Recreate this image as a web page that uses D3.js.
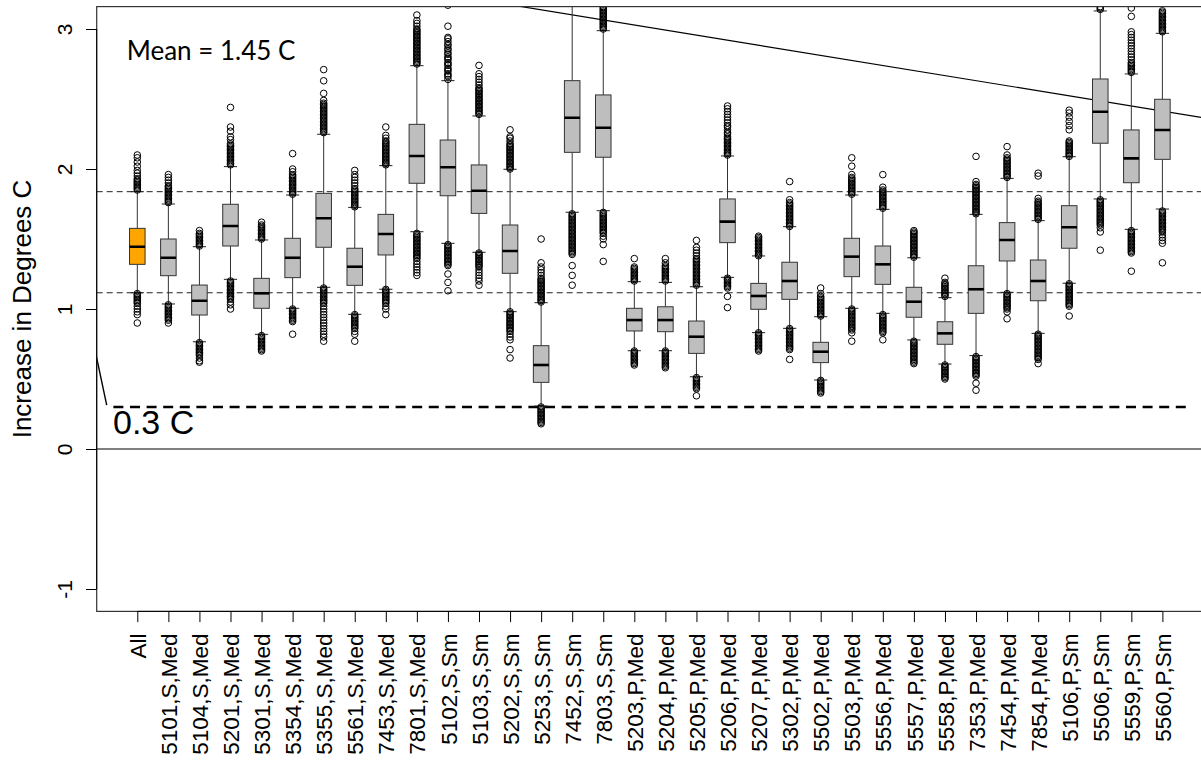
<!DOCTYPE html>
<html>
<head>
<meta charset="utf-8">
<script src="https://cdn.jsdelivr.net/npm/d3@7"></script>
<style>
  body { margin: 0; background: #fff; }
  svg { display: block; }
</style>
</head>
<body>
<svg id="chart" width="1201" height="761"></svg>
<script>
// ---- data ----
const categories = ["All", "5101,S,Med", "5104,S,Med", "5201,S,Med", "5301,S,Med", "5354,S,Med",
    "5355,S,Med", "5561,S,Med", "7453,S,Med", "7801,S,Med", "5102,S,Sm", "5103,S,Sm", "5202,S,Sm",
    "5253,S,Sm", "7452,S,Sm", "7803,S,Sm", "5203,P,Med", "5204,P,Med", "5205,P,Med", "5206,P,Med",
    "5207,P,Med", "5302,P,Med", "5502,P,Med", "5503,P,Med", "5556,P,Med", "5557,P,Med", "5558,P,Med",
    "7353,P,Med", "7454,P,Med", "7854,P,Med", "5106,P,Sm", "5506,P,Sm", "5559,P,Sm", "5560,P,Sm"];

const q3s = [1.576, 1.50, 1.171, 1.748, 1.219, 1.505, 1.826, 1.434, 1.676, 2.319, 2.207, 2.029, 1.60,
    0.738, 2.631, 2.529, 1.005, 1.016, 0.914, 1.786, 1.183, 1.334, 0.762, 1.505, 1.45, 1.155, 0.909,
    1.309, 1.617, 1.35, 1.738, 2.643, 2.279, 2.498];
const medians = [1.445, 1.366, 1.059, 1.593, 1.112, 1.366, 1.648, 1.302, 1.536, 2.093, 2.012, 1.845,
    1.414, 0.60, 2.366, 2.295, 0.921, 0.921, 0.802, 1.624, 1.093, 1.20, 0.695, 1.374, 1.319, 1.052,
    0.826, 1.141, 1.493, 1.20, 1.584, 2.409, 2.076, 2.279];
const q1s = [1.319, 1.238, 0.957, 1.45, 1.005, 1.224, 1.441, 1.169, 1.386, 1.898, 1.809, 1.683, 1.255,
    0.476, 2.119, 2.084, 0.843, 0.838, 0.683, 1.474, 0.998, 1.069, 0.617, 1.231, 1.176, 0.941, 0.748,
    0.969, 1.343, 1.059, 1.434, 2.184, 1.902, 2.069];
const whiskerHigh = [1.838, 1.75, 1.445, 2.017, 1.493, 1.814, 2.248, 1.726, 2.024, 2.738, 2.631, 2.379,
    1.998, 1.045, 3.40, 2.988, 1.195, 1.19, 1.159, 2.093, 1.379, 1.588, 0.945, 1.814, 1.712, 1.366,
    1.081, 1.676, 1.933, 1.631, 2.088, 3.129, 2.679, 2.969];
const whiskerLow = [1.116, 1.036, 0.766, 1.212, 0.819, 1.005, 1.155, 0.962, 1.141, 1.552, 1.469, 1.405,
    0.981, 0.307, 1.691, 1.702, 0.702, 0.702, 0.516, 1.226, 0.831, 0.862, 0.493, 1.005, 0.969, 0.779,
    0.607, 0.667, 1.119, 0.826, 1.184, 1.786, 1.569, 1.714];

const outliersHigh = [
    [1.85, 1.86, 1.87, 1.88, 1.89, 1.90, 1.91, 1.92, 1.93, 1.95, 1.97, 1.99, 2.02, 2.05, 2.08, 2.10],
    [1.76, 1.77, 1.78, 1.79, 1.80, 1.81, 1.82, 1.83, 1.84, 1.85, 1.86, 1.87, 1.88, 1.90, 1.92, 1.94, 1.96],
    [1.45, 1.46, 1.47, 1.48, 1.49, 1.50, 1.51, 1.52, 1.53, 1.54, 1.56],
    [2.03, 2.04, 2.05, 2.06, 2.07, 2.08, 2.09, 2.10, 2.11, 2.12, 2.13, 2.14, 2.15, 2.16, 2.17, 2.18, 2.21, 2.23, 2.27, 2.30, 2.44],
    [1.50, 1.51, 1.52, 1.53, 1.54, 1.55, 1.56, 1.57, 1.58, 1.59, 1.60, 1.62],
    [1.82, 1.83, 1.84, 1.85, 1.86, 1.87, 1.88, 1.89, 1.90, 1.91, 1.92, 1.93, 1.94, 1.95, 1.96, 1.98, 2.00, 2.11],
    [2.26, 2.27, 2.28, 2.29, 2.30, 2.31, 2.32, 2.33, 2.34, 2.35, 2.36, 2.37, 2.38, 2.39, 2.40, 2.41, 2.42, 2.43, 2.44, 2.45, 2.46, 2.47, 2.49, 2.54, 2.63, 2.71],
    [1.73, 1.74, 1.75, 1.76, 1.77, 1.78, 1.79, 1.80, 1.81, 1.82, 1.83, 1.84, 1.85, 1.86, 1.88, 1.90, 1.92, 1.94, 1.96, 1.99],
    [2.03, 2.04, 2.05, 2.06, 2.07, 2.08, 2.09, 2.10, 2.11, 2.12, 2.13, 2.14, 2.15, 2.16, 2.17, 2.18, 2.19, 2.20, 2.22, 2.24, 2.30],
    [2.75, 2.76, 2.77, 2.78, 2.79, 2.80, 2.81, 2.82, 2.83, 2.84, 2.85, 2.86, 2.87, 2.88, 2.89, 2.90, 2.91, 2.92, 2.93, 2.94, 2.95, 2.96, 2.97, 2.98, 2.99, 3.00, 3.02, 3.04, 3.06, 3.10],
    [2.64, 2.66, 2.67, 2.68, 2.70, 2.71, 2.72, 2.74, 2.75, 2.76, 2.78, 2.79, 2.80, 2.82, 2.83, 2.85, 2.86, 2.88, 2.89, 2.91, 2.93, 2.94, 3.02, 3.17],
    [2.39, 2.40, 2.41, 2.42, 2.43, 2.44, 2.45, 2.46, 2.47, 2.48, 2.49, 2.50, 2.51, 2.52, 2.53, 2.54, 2.55, 2.56, 2.57, 2.58, 2.60, 2.62, 2.64, 2.66, 2.68, 2.74],
    [2.00, 2.01, 2.02, 2.03, 2.04, 2.05, 2.06, 2.07, 2.08, 2.09, 2.10, 2.11, 2.12, 2.13, 2.14, 2.15, 2.16, 2.17, 2.18, 2.20, 2.22, 2.23, 2.28],
    [1.05, 1.06, 1.07, 1.08, 1.09, 1.10, 1.11, 1.12, 1.13, 1.14, 1.15, 1.16, 1.17, 1.18, 1.19, 1.20, 1.21, 1.22, 1.24, 1.26, 1.28, 1.30, 1.33, 1.50],
    [],
    [3.00, 3.01, 3.02, 3.03, 3.04, 3.05, 3.06, 3.07, 3.08, 3.09, 3.10, 3.11, 3.12, 3.13, 3.14, 3.15, 3.16],
    [1.20, 1.21, 1.22, 1.23, 1.24, 1.25, 1.26, 1.27, 1.28, 1.29, 1.30, 1.36],
    [1.20, 1.21, 1.22, 1.23, 1.24, 1.25, 1.26, 1.27, 1.28, 1.29, 1.30, 1.31, 1.33, 1.36],
    [1.17, 1.18, 1.19, 1.20, 1.21, 1.22, 1.23, 1.24, 1.25, 1.26, 1.27, 1.28, 1.29, 1.30, 1.31, 1.32, 1.33, 1.34, 1.35, 1.36, 1.38, 1.40, 1.42, 1.44, 1.49],
    [2.10, 2.11, 2.12, 2.13, 2.14, 2.15, 2.16, 2.17, 2.18, 2.19, 2.20, 2.21, 2.22, 2.23, 2.25, 2.26, 2.28, 2.30, 2.31, 2.33, 2.35, 2.37, 2.39, 2.41, 2.43, 2.45],
    [1.38, 1.39, 1.40, 1.41, 1.42, 1.43, 1.44, 1.45, 1.46, 1.47, 1.48, 1.49, 1.50, 1.51, 1.52],
    [1.59, 1.60, 1.61, 1.62, 1.63, 1.64, 1.65, 1.66, 1.67, 1.68, 1.69, 1.70, 1.71, 1.72, 1.73, 1.74, 1.75, 1.76, 1.78, 1.91],
    [0.95, 0.96, 0.97, 0.98, 0.99, 1.00, 1.01, 1.02, 1.03, 1.04, 1.05, 1.06, 1.07, 1.08, 1.09, 1.11, 1.15],
    [1.82, 1.83, 1.84, 1.85, 1.86, 1.87, 1.88, 1.89, 1.90, 1.91, 1.92, 1.93, 1.94, 1.96, 2.02, 2.08],
    [1.72, 1.73, 1.74, 1.75, 1.76, 1.77, 1.78, 1.79, 1.80, 1.81, 1.82, 1.83, 1.84, 1.85, 1.87, 1.96],
    [1.37, 1.38, 1.39, 1.40, 1.41, 1.42, 1.43, 1.44, 1.45, 1.46, 1.47, 1.48, 1.49, 1.50, 1.51, 1.52, 1.53, 1.54, 1.55, 1.56],
    [1.09, 1.10, 1.11, 1.12, 1.13, 1.14, 1.15, 1.16, 1.17, 1.18, 1.19, 1.22],
    [1.68, 1.69, 1.70, 1.71, 1.72, 1.73, 1.74, 1.75, 1.76, 1.77, 1.78, 1.79, 1.80, 1.81, 1.82, 1.83, 1.84, 1.85, 1.86, 1.87, 1.88, 1.89, 1.91, 2.09],
    [1.94, 1.95, 1.96, 1.97, 1.98, 1.99, 2.00, 2.01, 2.02, 2.03, 2.04, 2.05, 2.06, 2.07, 2.08, 2.10, 2.16],
    [1.64, 1.65, 1.66, 1.67, 1.68, 1.69, 1.70, 1.71, 1.72, 1.73, 1.74, 1.75, 1.76, 1.77, 1.79, 1.95, 1.97],
    [2.09, 2.10, 2.11, 2.12, 2.13, 2.14, 2.15, 2.16, 2.17, 2.18, 2.19, 2.20, 2.28, 2.31, 2.34, 2.37, 2.40, 2.42],
    [3.14, 3.15, 3.16],
    [2.69, 2.70, 2.71, 2.72, 2.73, 2.74, 2.75, 2.76, 2.78, 2.80, 2.82, 2.84, 2.86, 2.88, 2.90, 2.92, 2.94, 2.96, 2.98, 3.09, 3.15],
    [2.98, 2.99, 3.00, 3.01, 3.02, 3.03, 3.04, 3.05, 3.06, 3.07, 3.08, 3.09, 3.10, 3.11, 3.12, 3.13]
];

const outliersLow = [
    [1.11, 1.10, 1.09, 1.08, 1.07, 1.06, 1.05, 1.04, 1.02, 1.00, 0.98, 0.96, 0.90],
    [1.03, 1.02, 1.01, 1.00, 0.99, 0.98, 0.97, 0.96, 0.95, 0.94, 0.93, 0.92, 0.90],
    [0.76, 0.75, 0.74, 0.73, 0.72, 0.71, 0.70, 0.69, 0.68, 0.67, 0.65, 0.63, 0.62],
    [1.20, 1.19, 1.18, 1.17, 1.16, 1.15, 1.14, 1.13, 1.12, 1.11, 1.10, 1.09, 1.08, 1.07, 1.05, 1.03, 1.00],
    [0.81, 0.80, 0.79, 0.78, 0.77, 0.76, 0.75, 0.74, 0.73, 0.72, 0.71, 0.70],
    [1.00, 0.99, 0.98, 0.97, 0.96, 0.95, 0.94, 0.93, 0.92, 0.91, 0.82],
    [1.15, 1.14, 1.13, 1.12, 1.11, 1.10, 1.09, 1.08, 1.07, 1.06, 1.05, 1.04, 1.02, 1.00, 0.98, 0.96, 0.94, 0.92, 0.90, 0.88, 0.86, 0.84, 0.82, 0.80, 0.77],
    [0.96, 0.95, 0.94, 0.93, 0.92, 0.91, 0.90, 0.89, 0.88, 0.87, 0.86, 0.84, 0.82, 0.77],
    [1.14, 1.13, 1.12, 1.11, 1.10, 1.09, 1.08, 1.07, 1.06, 1.05, 1.04, 1.02, 1.00, 0.96],
    [1.54, 1.53, 1.52, 1.51, 1.50, 1.49, 1.48, 1.47, 1.46, 1.45, 1.44, 1.43, 1.42, 1.41, 1.40, 1.39, 1.38, 1.37, 1.36, 1.34, 1.32, 1.30, 1.28, 1.26, 1.24],
    [1.46, 1.45, 1.44, 1.43, 1.42, 1.41, 1.40, 1.39, 1.38, 1.37, 1.36, 1.35, 1.34, 1.33, 1.32, 1.31, 1.25, 1.19, 1.13],
    [1.40, 1.39, 1.38, 1.37, 1.36, 1.35, 1.34, 1.33, 1.32, 1.31, 1.30, 1.28, 1.26, 1.24, 1.22, 1.20, 1.17],
    [0.98, 0.97, 0.96, 0.95, 0.94, 0.93, 0.92, 0.91, 0.90, 0.89, 0.88, 0.87, 0.86, 0.85, 0.84, 0.82, 0.80, 0.78, 0.71, 0.65],
    [0.30, 0.29, 0.28, 0.27, 0.26, 0.25, 0.24, 0.23, 0.22, 0.21, 0.20, 0.19, 0.18],
    [1.68, 1.67, 1.66, 1.65, 1.64, 1.63, 1.62, 1.61, 1.60, 1.59, 1.58, 1.57, 1.56, 1.55, 1.54, 1.53, 1.52, 1.51, 1.50, 1.49, 1.48, 1.47, 1.46, 1.45, 1.44, 1.43, 1.42, 1.41, 1.40, 1.39, 1.31, 1.24, 1.17],
    [1.69, 1.68, 1.67, 1.66, 1.65, 1.64, 1.63, 1.62, 1.61, 1.60, 1.59, 1.58, 1.57, 1.56, 1.55, 1.54, 1.52, 1.50, 1.46, 1.34],
    [0.70, 0.69, 0.68, 0.67, 0.66, 0.65, 0.64, 0.63, 0.62, 0.61, 0.60],
    [0.70, 0.69, 0.68, 0.67, 0.66, 0.65, 0.64, 0.63, 0.62, 0.61, 0.60, 0.59, 0.58],
    [0.51, 0.50, 0.49, 0.48, 0.47, 0.46, 0.45, 0.44, 0.43, 0.38],
    [1.22, 1.21, 1.20, 1.19, 1.18, 1.17, 1.16, 1.15, 1.09, 1.01],
    [0.83, 0.82, 0.81, 0.80, 0.79, 0.78, 0.77, 0.76, 0.75, 0.74, 0.73, 0.72, 0.71, 0.70],
    [0.86, 0.85, 0.84, 0.83, 0.82, 0.81, 0.80, 0.79, 0.78, 0.77, 0.76, 0.75, 0.74, 0.73, 0.72, 0.71, 0.64],
    [0.49, 0.48, 0.47, 0.46, 0.45, 0.44, 0.43, 0.42, 0.41, 0.40],
    [1.00, 0.99, 0.98, 0.97, 0.96, 0.95, 0.94, 0.93, 0.92, 0.91, 0.90, 0.89, 0.88, 0.87, 0.86, 0.85, 0.83, 0.77],
    [0.96, 0.95, 0.94, 0.93, 0.92, 0.91, 0.90, 0.89, 0.88, 0.87, 0.86, 0.85, 0.84, 0.83, 0.78],
    [0.77, 0.76, 0.75, 0.74, 0.73, 0.72, 0.71, 0.70, 0.69, 0.68, 0.67, 0.66, 0.65, 0.64, 0.63, 0.62, 0.61],
    [0.60, 0.59, 0.58, 0.57, 0.56, 0.55, 0.54, 0.53, 0.52, 0.51, 0.50],
    [0.66, 0.65, 0.64, 0.63, 0.62, 0.61, 0.60, 0.59, 0.58, 0.57, 0.56, 0.55, 0.54, 0.53, 0.52, 0.47, 0.42],
    [1.11, 1.10, 1.09, 1.08, 1.07, 1.06, 1.05, 1.04, 1.03, 1.02, 1.01, 1.00, 0.98, 0.93],
    [0.82, 0.81, 0.80, 0.79, 0.78, 0.77, 0.76, 0.75, 0.74, 0.73, 0.72, 0.71, 0.70, 0.69, 0.68, 0.67, 0.66, 0.65, 0.64, 0.61],
    [1.18, 1.17, 1.16, 1.15, 1.14, 1.13, 1.12, 1.11, 1.10, 1.09, 1.08, 1.07, 1.06, 1.05, 1.04, 1.03, 1.02, 0.95],
    [1.78, 1.77, 1.76, 1.75, 1.74, 1.73, 1.72, 1.71, 1.70, 1.69, 1.68, 1.67, 1.66, 1.65, 1.64, 1.63, 1.62, 1.61, 1.60, 1.58, 1.55, 1.42],
    [1.56, 1.55, 1.54, 1.53, 1.52, 1.51, 1.50, 1.49, 1.48, 1.47, 1.46, 1.45, 1.44, 1.43, 1.42, 1.41, 1.40, 1.27],
    [1.70, 1.69, 1.68, 1.67, 1.66, 1.65, 1.64, 1.63, 1.62, 1.61, 1.60, 1.59, 1.58, 1.57, 1.56, 1.55, 1.53, 1.51, 1.49, 1.47, 1.33]
];

const yTicks = [-1, 0, 1, 2, 3];
const hLines = [1.838, 1.116];          // thin dashed reference lines
const thresholdValue = 0.3;             // "0.3 C" line
const thresholdSpan = [-0.77, 33.84];   // in box-index units
const trendPoints = [[0, 3.607], [34, 2.378]];
const pointerPoints = [[-1.4, 0.747], [-0.985, 0.314]];
const meanLabel = "Mean = 1.45 C";
const thresholdLabel = "0.3 C";
const yTitle = "Increase in Degrees C";

// ---- layout ----
const pLeft = 96.7, pRight = 1203, pTop = 6.6, pBottom = 611.4;

let x = d3.scaleLinear().domain([-1.307, 34.307]).range([pLeft, pRight]);
let y = d3.scaleLinear().domain([-1.16, 3.16]).range([pBottom, pTop]);
const boxW = 0.5;

let svg = d3.select("#chart");

svg.append("defs").append("clipPath").attr("id", "plotclip")
    .append("rect")
    .attr("x", pLeft).attr("y", pTop)
    .attr("width", pRight - pLeft).attr("height", pBottom - pTop);

let plot = svg.append("g").attr("clip-path", "url(#plotclip)");

// reference lines
plot.append("line")
    .attr("x1", pLeft).attr("x2", pRight)
    .attr("y1", y(0)).attr("y2", y(0))
    .style("stroke", "#000").style("stroke-width", 1.2);

plot.selectAll(".hline")
    .data(hLines)
    .join("line")
    .classed("hline", true)
    .attr("x1", pLeft).attr("x2", pRight)
    .attr("y1", d => y(d)).attr("y2", d => y(d))
    .style("stroke", "#222").style("stroke-width", 1)
    .style("stroke-dasharray", "6,4");

plot.append("line")
    .attr("x1", x(thresholdSpan[0])).attr("x2", x(thresholdSpan[1]))
    .attr("y1", y(thresholdValue)).attr("y2", y(thresholdValue))
    .style("stroke", "#000").style("stroke-width", 2.4)
    .style("stroke-dasharray", "10,6.6");

// trend line, stretched across the plot and clipped
let slope = (trendPoints[1][1] - trendPoints[0][1]) / (trendPoints[1][0] - trendPoints[0][0]);
let xa = x.domain()[0], xb = x.domain()[1];
plot.append("line")
    .attr("x1", x(xa)).attr("y1", y(trendPoints[0][1] + slope * (xa - trendPoints[0][0])))
    .attr("x2", x(xb)).attr("y2", y(trendPoints[0][1] + slope * (xb - trendPoints[0][0])))
    .style("stroke", "#000").style("stroke-width", 1.2);

plot.append("line")
    .attr("x1", x(pointerPoints[0][0])).attr("y1", y(pointerPoints[0][1]))
    .attr("x2", x(pointerPoints[1][0])).attr("y2", y(pointerPoints[1][1]))
    .style("stroke", "#000").style("stroke-width", 1.4);

// boxes
let boxes = categories.map((c, i) => ({
    i: i, label: c, q1: q1s[i], q3: q3s[i], med: medians[i],
    lo: whiskerLow[i], hi: whiskerHigh[i],
    out: outliersHigh[i].concat(outliersLow[i])
}));

plot.selectAll(".box")
    .data(boxes)
    .join("g")
    .classed("box", true)
    .each(function(d) {
        let g = d3.select(this);
        let cx = x(d.i);
        let hw = (x(boxW) - x(0)) / 2;
        let sw = hw * 0.85;
        // whiskers
        g.append("line")
            .attr("x1", cx).attr("x2", cx)
            .attr("y1", y(d.q3)).attr("y2", y(d.hi))
            .style("stroke", "#333").style("stroke-width", 1);
        g.append("line")
            .attr("x1", cx).attr("x2", cx)
            .attr("y1", y(d.q1)).attr("y2", y(d.lo))
            .style("stroke", "#333").style("stroke-width", 1);
        g.append("line")
            .attr("x1", cx - sw).attr("x2", cx + sw)
            .attr("y1", y(d.hi)).attr("y2", y(d.hi))
            .style("stroke", "#222").style("stroke-width", 1);
        g.append("line")
            .attr("x1", cx - sw).attr("x2", cx + sw)
            .attr("y1", y(d.lo)).attr("y2", y(d.lo))
            .style("stroke", "#222").style("stroke-width", 1);
        // box
        g.append("rect")
            .attr("x", cx - hw).attr("width", 2 * hw)
            .attr("y", y(d.q3)).attr("height", y(d.q1) - y(d.q3))
            .style("fill", d.i == 0 ? "#FFA500" : "#BEBEBE")
            .style("stroke", "#333").style("stroke-width", 1);
        g.append("line")
            .attr("x1", cx - hw).attr("x2", cx + hw)
            .attr("y1", y(d.med)).attr("y2", y(d.med))
            .style("stroke", "#000").style("stroke-width", 2.6);
        // outliers
        g.selectAll("circle")
            .data(d.out)
            .join("circle")
            .attr("cx", cx)
            .attr("cy", v => y(v))
            .attr("r", 3.3)
            .style("fill", "none")
            .style("stroke", "#000")
            .style("stroke-width", 1);
    });

// frame
svg.append("rect")
    .attr("x", pLeft).attr("y", pTop)
    .attr("width", pRight - pLeft).attr("height", pBottom - pTop)
    .style("fill", "none").style("stroke", "#333").style("stroke-width", 1.2);

// axes
let yAxis = svg.append("g")
    .attr("transform", `translate(${pLeft},0)`)
    .call(d3.axisLeft(y).tickValues(yTicks).tickSize(10.7).tickFormat(d => String(d)));
yAxis.select(".domain")
    .attr("d", `M0,${y(yTicks[0])}V${y(yTicks[yTicks.length - 1])}`);
yAxis.selectAll("text")
    .attr("transform", "rotate(-90)")
    .attr("x", 0).attr("y", -25).attr("dy", 0)
    .attr("text-anchor", "middle")
    .style("font-family", "'Liberation Sans', Arial, sans-serif")
    .style("font-size", "21px")
    .style("fill", "#000");

let xAxis = svg.append("g")
    .attr("transform", `translate(0,${pBottom})`)
    .call(d3.axisBottom(x).tickValues(d3.range(categories.length)).tickSize(10.7)
        .tickFormat(i => categories[i]));
xAxis.select(".domain")
    .attr("d", `M${x(0)},0H${x(categories.length - 1)}`);
xAxis.selectAll("text")
    .attr("transform", "rotate(-90)")
    .attr("x", -22).attr("y", 0).attr("dy", "0.36em")
    .attr("text-anchor", "end")
    .style("font-family", "'Liberation Sans', Arial, sans-serif")
    .style("font-size", "22.5px")
    .style("fill", "#000");

svg.selectAll(".domain, .tick line").style("stroke", "#000");

// titles and notes
svg.append("text")
    .attr("transform", `translate(31,${(pTop + pBottom) / 2}) rotate(-90)`)
    .attr("text-anchor", "middle")
    .style("font-family", "'Liberation Sans', Arial, sans-serif")
    .style("font-size", "26px")
    .text(yTitle);

svg.append("text")
    .attr("x", 126.7).attr("y", 60)
    .style("font-family", "Lato, 'Open Sans', sans-serif")
    .style("font-size", "26px")
    .text(meanLabel);

svg.append("text")
    .attr("x", 113).attr("y", 434)
    .style("font-family", "'Liberation Sans', Arial, sans-serif")
    .style("font-size", "34px")
    .text(thresholdLabel);
</script>
</body>
</html>
